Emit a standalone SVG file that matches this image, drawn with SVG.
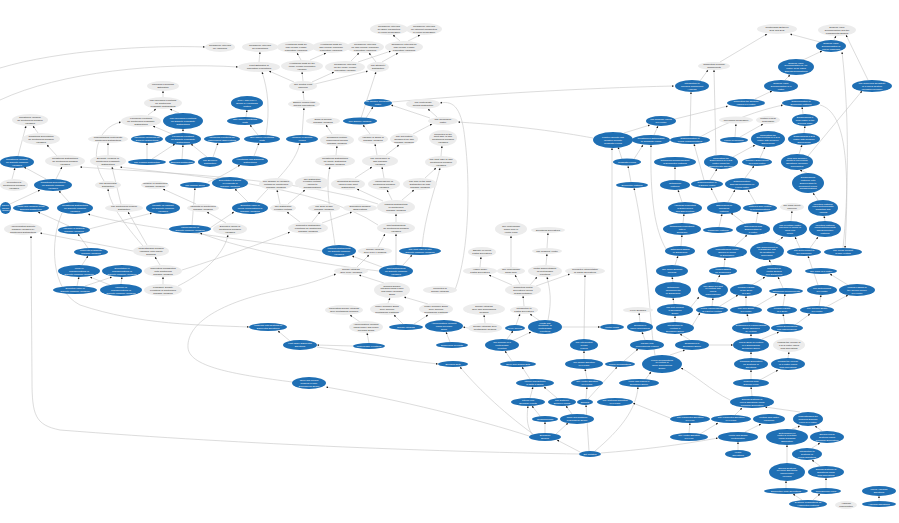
<svg xmlns="http://www.w3.org/2000/svg" width="899" height="523" viewBox="0 0 899 523">
<defs>
<marker id="ah" viewBox="0 0 10 10" refX="9" refY="5" markerWidth="2.4" markerHeight="2.4" markerUnits="userSpaceOnUse" orient="auto"><path d="M0,1 L10,5 L0,9z" fill="#1a1a1a"/></marker>
<style>
.b{fill:#1f6fb4}
.g{fill:#ececec}
text{font-family:"Liberation Sans",Arial,sans-serif;font-size:2.4px;text-anchor:middle}
.tb{fill:#ffffff}
.tg{fill:#2a2a2a}
.sm{font-size:1.9px}
#connectors path{fill:none;stroke:#c4c4c4;stroke-width:0.6;marker-end:url(#ah)}
</style>
</defs>
<rect width="899" height="523" fill="#ffffff"/>
<g id="connectors">
<path d="M0,100 C60,72 160,62 238,67"/>
<path d="M0,68 C60,50 150,45 205,47"/>
<path d="M259,62 L260,52"/>
<path d="M301,60 L297,53"/>
<path d="M310,60 L326,53"/>
<path d="M351,61 L359,53"/>
<path d="M358,62 L391,51"/>
<path d="M376,62 L369,53"/>
<path d="M382,62 L398,53"/>
<path d="M400,41 L393,35"/>
<path d="M408,41 L420,35"/>
<path d="M303,81 L302,72"/>
<path d="M312,82 L334,72"/>
<path d="M294,82 L269,71"/>
<path d="M315,84 L368,71"/>
<path d="M304,100 L303,91"/>
<path d="M302,135 L304,108"/>
<path d="M361,118 L376,72"/>
<path d="M163,97 L163,91"/>
<path d="M148,115 L156,109"/>
<path d="M179,113 L170,109"/>
<path d="M172,134 L153,126"/>
<path d="M183,133 L183,129"/>
<path d="M147,159 L147,143"/>
<path d="M152,159 L175,144"/>
<path d="M182,159 L183,145"/>
<path d="M207,157 L191,144"/>
<path d="M213,157 L218,143"/>
<path d="M108,155 L108,143"/>
<path d="M18,156 L26,126"/>
<path d="M57,156 L47,145"/>
<path d="M38,133 L33,126"/>
<path d="M104,181 C90,160 95,128 121,122"/>
<path d="M56,179 L62,167"/>
<path d="M46,179 L24,167"/>
<path d="M121,204 L112,167"/>
<path d="M246,117 L247,110"/>
<path d="M258,135 L250,125"/>
<path d="M254,156 L259,143"/>
<path d="M366,118 L373,107"/>
<path d="M437,117 L428,109"/>
<path d="M430,118 L391,105"/>
<path d="M392,102 C470,95 580,88 674,86"/>
<path d="M332,134 L326,125"/>
<path d="M370,134 L363,125"/>
<path d="M377,155 L375,144"/>
<path d="M386,155 L399,145"/>
<path d="M336,155 L337,146"/>
<path d="M413,134 L432,124"/>
<path d="M593,138 C560,132 520,126 458,122"/>
<path d="M455,290 C470,250 470,180 465,140 C462,110 455,100 440,103"/>
<path d="M441,156 L442,146"/>
<path d="M422,247 C425,215 435,190 440,168"/>
<path d="M266,135 C270,110 268,90 262,72"/>
<path d="M256,202 C275,180 295,165 300,143"/>
<path d="M378,204 C300,178 150,172 80,167"/>
<path d="M378,225 C320,185 180,175 120,167"/>
<path d="M335,245 C330,210 325,185 330,167"/>
<path d="M355,178 L372,167"/>
<path d="M384,178 L382,167"/>
<path d="M425,178 L436,168"/>
<path d="M69,202 L59,191"/>
<path d="M69,226 L38,212"/>
<path d="M322,251 C250,240 120,225 88,214"/>
<path d="M147,245 L128,212"/>
<path d="M143,246 C125,225 110,205 108,189"/>
<path d="M89,229 L152,213"/>
<path d="M226,223 L207,212"/>
<path d="M196,204 L163,189"/>
<path d="M133,251 L40,233"/>
<path d="M88,248 L78,234"/>
<path d="M379,271 C300,262 230,245 200,233"/>
<path d="M82,265 L88,256"/>
<path d="M160,265 L155,257"/>
<path d="M77,286 L79,277"/>
<path d="M85,286 L112,277"/>
<path d="M121,284 L122,277"/>
<path d="M110,285 L90,277"/>
<path d="M163,284 L163,277"/>
<path d="M192,225 L195,188"/>
<path d="M248,202 L235,189"/>
<path d="M210,228 L234,212"/>
<path d="M280,204 L277,190"/>
<path d="M288,204 L305,190"/>
<path d="M383,201 L357,189"/>
<path d="M392,200 L387,190"/>
<path d="M402,200 L414,190"/>
<path d="M396,222 L396,214"/>
<path d="M312,222 L320,212"/>
<path d="M300,222 L287,212"/>
<path d="M322,223 L352,212"/>
<path d="M182,270 C230,255 270,240 290,232"/>
<path d="M178,286 C210,270 225,250 228,235"/>
<path d="M378,247 L385,234"/>
<path d="M396,265 L396,234"/>
<path d="M382,267 L352,256"/>
<path d="M403,265 L412,255"/>
<path d="M357,267 L369,255"/>
<path d="M384,283 L359,275"/>
<path d="M388,303 L390,298"/>
<path d="M428,304 L404,297"/>
<path d="M360,322 L350,315"/>
<path d="M403,324 L394,315"/>
<path d="M414,324 L428,315"/>
<path d="M369,343 L367,333"/>
<path d="M290,341 L278,331"/>
<path d="M353,346 L317,345"/>
<path d="M317,347 C360,352 400,360 438,364"/>
<path d="M292,382 C240,375 190,368 188,348 C186,320 230,300 280,290 C310,284 325,278 336,274"/>
<path d="M529,436 C480,420 400,400 326,387"/>
<path d="M579,454 C450,452 250,445 60,430 C35,425 32,415 32,380 L31,236"/>
<path d="M62,213 C50,240 50,290 80,305 C140,325 200,325 249,327"/>
<path d="M511,267 L511,236"/>
<path d="M547,248 L548,233"/>
<path d="M480,267 L481,257"/>
<path d="M546,265 L547,254"/>
<path d="M512,285 L489,275"/>
<path d="M520,284 L515,275"/>
<path d="M530,285 L537,277"/>
<path d="M536,286 L570,274"/>
<path d="M524,306 L523,296"/>
<path d="M548,320 C552,300 550,290 547,277"/>
<path d="M584,339 L585,275"/>
<path d="M540,321 L530,314"/>
<path d="M516,325 L520,314"/>
<path d="M485,323 L484,315"/>
<path d="M468,328 L463,327"/>
<path d="M507,339 L513,331"/>
<path d="M512,341 L531,332"/>
<path d="M562,327 L600,327"/>
<path d="M450,342 L446,332"/>
<path d="M612,324 L612,148"/>
<path d="M622,159 L618,147"/>
<path d="M634,159 L643,145"/>
<path d="M624,133 L650,125"/>
<path d="M654,135 L658,126"/>
<path d="M631,182 L628,166"/>
<path d="M675,180 L675,167"/>
<path d="M675,119 L728,106"/>
<path d="M700,137 C730,120 760,110 783,105"/>
<path d="M690,136 L691,92"/>
<path d="M700,81 L708,70"/>
<path d="M720,62 L767,34"/>
<path d="M820,42 L790,34"/>
<path d="M834,40 L836,36"/>
<path d="M803,60 L822,51"/>
<path d="M785,80 L790,75"/>
<path d="M755,99 L772,91"/>
<path d="M868,80 L846,35"/>
<path d="M808,156 L862,91"/>
<path d="M735,137 L736,124"/>
<path d="M740,137 L763,124"/>
<path d="M803,114 L802,107"/>
<path d="M804,133 L805,126"/>
<path d="M799,154 L802,145"/>
<path d="M733,157 L755,145"/>
<path d="M760,158 L765,147"/>
<path d="M716,155 L714,70"/>
<path d="M843,248 C848,200 850,120 842,52"/>
<path d="M820,105 C845,112 850,160 845,248"/>
<path d="M704,180 L694,144"/>
<path d="M710,180 L717,169"/>
<path d="M745,178 L754,166"/>
<path d="M807,173 L800,170"/>
<path d="M756,204 L748,190"/>
<path d="M728,202 L735,190"/>
<path d="M718,202 L711,188"/>
<path d="M719,227 L722,214"/>
<path d="M745,224 L731,213"/>
<path d="M756,223 L758,212"/>
<path d="M791,221 L792,211"/>
<path d="M825,221 L824,216"/>
<path d="M818,200 L813,193"/>
<path d="M682,202 L678,190"/>
<path d="M683,223 L684,214"/>
<path d="M681,246 L682,235"/>
<path d="M675,265 L678,256"/>
<path d="M673,282 L672,277"/>
<path d="M674,304 L673,298"/>
<path d="M675,322 L675,316"/>
<path d="M690,340 L680,334"/>
<path d="M775,243 L783,237"/>
<path d="M800,248 L795,237"/>
<path d="M810,248 L818,237"/>
<path d="M735,246 L747,235"/>
<path d="M724,267 L725,258"/>
<path d="M772,265 L769,260"/>
<path d="M818,285 L808,256"/>
<path d="M716,282 L720,275"/>
<path d="M752,285 L765,277"/>
<path d="M783,288 L778,277"/>
<path d="M848,285 L830,274"/>
<path d="M819,306 L821,295"/>
<path d="M826,307 L848,295"/>
<path d="M712,306 L713,298"/>
<path d="M720,306 L738,295"/>
<path d="M783,306 L785,294"/>
<path d="M755,307 L777,294"/>
<path d="M746,306 L746,296"/>
<path d="M749,322 L747,314"/>
<path d="M785,324 L783,314"/>
<path d="M795,325 L810,314"/>
<path d="M751,338 L751,334"/>
<path d="M762,339 L779,332"/>
<path d="M709,345 L733,345"/>
<path d="M692,326 L700,313"/>
<path d="M751,358 L751,352"/>
<path d="M788,358 L789,352"/>
<path d="M690,308 L699,297"/>
<path d="M751,379 L751,370"/>
<path d="M760,380 L778,370"/>
<path d="M752,396 L751,387"/>
<path d="M730,400 C710,390 695,375 681,368"/>
<path d="M735,415 L742,408"/>
<path d="M800,412 L765,407"/>
<path d="M689,433 L690,423"/>
<path d="M700,434 L718,423"/>
<path d="M745,432 L761,424"/>
<path d="M792,429 L800,426"/>
<path d="M822,431 L815,426"/>
<path d="M738,450 L738,442"/>
<path d="M787,463 L787,445"/>
<path d="M812,448 L820,443"/>
<path d="M820,466 L812,460"/>
<path d="M786,488 L786,481"/>
<path d="M826,488 L826,478"/>
<path d="M802,500 L793,494"/>
<path d="M813,500 L820,494"/>
<path d="M879,501 L879,496"/>
<path d="M601,453 C640,450 680,445 718,438"/>
<path d="M530,379 L522,367"/>
<path d="M587,379 L585,369"/>
<path d="M588,399 L617,367"/>
<path d="M645,380 L651,372"/>
<path d="M530,398 L533,387"/>
<path d="M557,398 L544,387"/>
<path d="M586,399 L587,387"/>
<path d="M595,451 C620,430 636,410 638,387"/>
<path d="M540,416 L532,406"/>
<path d="M532,434 C526,425 527,415 528,406"/>
<path d="M545,433 L545,422"/>
<path d="M572,414 L566,406"/>
<path d="M589,451 L586,405"/>
<path d="M556,434 L568,423"/>
<path d="M670,418 L633,403"/>
<path d="M580,452 L557,440"/>
<path d="M533,434 C500,410 475,385 460,367"/>
<path d="M512,361 L505,351"/>
<path d="M584,359 L584,351"/>
<path d="M624,361 L638,349"/>
<path d="M670,355 L685,350"/>
<path d="M645,340 L642,332"/>
<path d="M640,322 L639,313"/>
<path d="M655,355 C650,330 648,250 634,188"/>
<path d="M666,249 C655,230 650,200 651,145"/>
<path d="M208,182 C225,175 235,168 240,165"/>
<path d="M12,179 L15,168"/>
<path d="M10,204 L40,190"/>
</g>

<g id="civar"><ellipse class="g" cx="220" cy="47" rx="15" ry="5"/><text class="tg" x="220" y="46.45"><tspan x="220">Confidence Intervals</tspan><tspan x="220" dy="2.8">for Variances</tspan></text></g>
<g id="ciprop"><ellipse class="g" cx="260" cy="47" rx="18" ry="5"/><text class="tg" x="260" y="46.45"><tspan x="260">Confidence Intervals</tspan><tspan x="260" dy="2.8">for Proportions</tspan></text></g>
<g id="htkn2"><ellipse class="g" cx="296" cy="47" rx="19" ry="6"/><text class="tg" x="296" y="45.05"><tspan x="296">Hypothesis Tests for</tspan><tspan x="296" dy="2.8">Two Means: Known</tspan><tspan x="296" dy="2.8">Population Variances</tspan></text></g>
<g id="htun2"><ellipse class="g" cx="331" cy="47" rx="19" ry="6"/><text class="tg" x="331" y="45.05"><tspan x="331">Hypothesis Tests for</tspan><tspan x="331" dy="2.8">Two Means: Unknown</tspan><tspan x="331" dy="2.8">Population Variances</tspan></text></g>
<g id="ciun2"><ellipse class="g" cx="365" cy="47" rx="19" ry="6"/><text class="tg" x="365" y="45.05"><tspan x="365">Confidence Intervals</tspan><tspan x="365" dy="2.8">for Two Means: Unknown</tspan><tspan x="365" dy="2.8">Population Variances</tspan></text></g>
<g id="cikn2"><ellipse class="g" cx="404" cy="47" rx="19" ry="6"/><text class="tg" x="404" y="45.05"><tspan x="404">Confidence Intervals for</tspan><tspan x="404" dy="2.8">Two Means: Known</tspan><tspan x="404" dy="2.8">Population Variances</tspan></text></g>
<g id="cislope"><ellipse class="g" cx="389" cy="29" rx="19" ry="6"/><text class="tg" x="389" y="27.05"><tspan x="389">Confidence Intervals</tspan><tspan x="389" dy="2.8">for Slope Parameters</tspan><tspan x="389" dy="2.8">in Linear Regression</tspan></text></g>
<g id="ciint"><ellipse class="g" cx="424" cy="29" rx="18" ry="6"/><text class="tg" x="424" y="27.05"><tspan x="424">Confidence Intervals</tspan><tspan x="424" dy="2.8">for Intercept Parameters</tspan><tspan x="424" dy="2.8">in Linear Regression</tspan></text></g>
<g id="peprop"><ellipse class="g" cx="259" cy="67" rx="21" ry="5"/><text class="tg" x="259" y="66.45"><tspan x="259">Point Estimates of</tspan><tspan x="259" dy="2.8">Population Proportions</tspan></text></g>
<g id="htkn"><ellipse class="g" cx="302" cy="66" rx="21" ry="6"/><text class="tg" x="302" y="64.05"><tspan x="302">Hypothesis Tests for the</tspan><tspan x="302" dy="2.8">Mean: Known Population</tspan><tspan x="302" dy="2.8">Variance</tspan></text></g>
<g id="cikn"><ellipse class="g" cx="345" cy="67" rx="20" ry="6"/><text class="tg" x="345" y="65.05"><tspan x="345">Confidence Intervals</tspan><tspan x="345" dy="2.8">for the Mean: Known</tspan><tspan x="345" dy="2.8">Population Variance</tspan></text></g>
<g id="tdist"><ellipse class="g" cx="378" cy="67" rx="11" ry="5"/><text class="tg" x="378" y="66.45"><tspan x="378">The Student t</tspan><tspan x="378" dy="2.8">Distribution</tspan></text></g>
<g id="clt"><ellipse class="g" cx="303" cy="86" rx="14" ry="5"/><text class="tg" x="303" y="85.45"><tspan x="303">The Central Limit</tspan><tspan x="303" dy="2.8">Theorem</tspan></text></g>
<g id="mle"><ellipse class="g" cx="163" cy="86" rx="16" ry="5"/><text class="tg" x="163" y="85.45"><tspan x="163">Maximum Likelihood</tspan><tspan x="163" dy="2.8">Estimation</tspan></text></g>
<g id="llcont"><ellipse class="g" cx="163" cy="103" rx="19" ry="6"/><text class="tg" x="163" y="101.05"><tspan x="163">Log-Likelihood Functions</tspan><tspan x="163" dy="2.8">for Continuous</tspan><tspan x="163" dy="2.8">Probability Distributions</tspan></text></g>
<g id="typeerr"><ellipse class="b" cx="247" cy="103" rx="16" ry="7"/><text class="tb" x="247" y="101.05"><tspan x="247">Type I and Type II</tspan><tspan x="247" dy="2.8">Errors in Hypothesis</tspan><tspan x="247" dy="2.8">Testing</tspan></text></g>
<g id="smnorm"><ellipse class="g" cx="304" cy="104" rx="16" ry="4"/><text class="tg" x="304" y="103.45"><tspan x="304">Sample Means From</tspan><tspan x="304" dy="2.8">Normal Populations</tspan></text></g>
<g id="scov"><ellipse class="b" cx="378" cy="103" rx="14" ry="4"/><text class="tb" x="378" y="102.45"><tspan x="378">The Sample Covariance</tspan><tspan x="378" dy="2.8">Matrix</tspan></text></g>
<g id="mvn"><ellipse class="g" cx="423" cy="104" rx="17" ry="5"/><text class="tg" x="423" y="103.45"><tspan x="423">The Multivariate</tspan><tspan x="423" dy="2.8">Normal Distribution</tspan></text></g>
<g id="likcont"><ellipse class="g" cx="141" cy="121" rx="20" ry="6"/><text class="tg" x="141" y="119.05"><tspan x="141">Likelihood Functions</tspan><tspan x="141" dy="2.8">for Continuous Probability</tspan><tspan x="141" dy="2.8">Distributions</tspan></text></g>
<g id="lldisc"><ellipse class="b" cx="183" cy="121" rx="20" ry="8"/><text class="tb" x="183" y="119.05"><tspan x="183">Log-Likelihood Functions</tspan><tspan x="183" dy="2.8">for Discrete Probability</tspan><tspan x="183" dy="2.8">Distributions</tspan></text></g>
<g id="cvcont"><ellipse class="g" cx="30" cy="120" rx="18" ry="6"/><text class="tg" x="30" y="118.05"><tspan x="30">Conditional Variance</tspan><tspan x="30" dy="2.8">for Continuous Random</tspan><tspan x="30" dy="2.8">Variables</tspan></text></g>
<g id="twotail"><ellipse class="b" cx="245" cy="121" rx="18" ry="4"/><text class="tb" x="245" y="120.45"><tspan x="245">Two-Tailed Hypothesis</tspan><tspan x="245" dy="2.8">Tests</tspan></text></g>
<g id="sumnorm"><ellipse class="g" cx="323" cy="121" rx="17" ry="4"/><text class="tg" x="323" y="120.45"><tspan x="323">Sums of Normal</tspan><tspan x="323" dy="2.8">Random Variables</tspan></text></g>
<g id="svar"><ellipse class="b" cx="360" cy="121" rx="17" ry="3.5"/><text class="tb" x="360" y="121.85">The Sample Variance</text></g>
<g id="covmat"><ellipse class="g" cx="443" cy="121" rx="15" ry="4"/><text class="tg" x="443" y="120.45"><tspan x="443">The Covariance</tspan><tspan x="443" dy="2.8">Matrix</tspan></text></g>
<g id="cecont"><ellipse class="g" cx="41" cy="139" rx="19" ry="6"/><text class="tg" x="41" y="137.05"><tspan x="41">Conditional Expectation</tspan><tspan x="41" dy="2.8">for Continuous Random</tspan><tspan x="41" dy="2.8">Variables</tspan></text></g>
<g id="mvcont"><ellipse class="g" cx="108" cy="139" rx="20" ry="4"/><text class="tg" x="108" y="138.45"><tspan x="108">Understanding Multivariate</tspan><tspan x="108" dy="2.8">Continuous Distributions</tspan></text></g>
<g id="mledisc"><ellipse class="b" cx="147" cy="139" rx="16" ry="4"/><text class="tb" x="147" y="138.45"><tspan x="147">Maximum Likelihood for</tspan><tspan x="147" dy="2.8">Discrete Distributions</tspan></text></g>
<g id="likdisc"><ellipse class="b" cx="183" cy="139" rx="18" ry="6"/><text class="tb" x="183" y="137.05"><tspan x="183">Likelihood Functions</tspan><tspan x="183" dy="2.8">for Discrete Probability</tspan><tspan x="183" dy="2.8">Distributions</tspan></text></g>
<g id="likind"><ellipse class="b" cx="222" cy="139" rx="18" ry="4"/><text class="tb" x="222" y="138.45"><tspan x="222">Likelihood Functions for</tspan><tspan x="222" dy="2.8">Independent Observations</tspan></text></g>
<g id="onetail"><ellipse class="b" cx="262" cy="139" rx="18" ry="4"/><text class="tb" x="262" y="138.45"><tspan x="262">One-Tailed Hypothesis</tspan><tspan x="262" dy="2.8">Tests</tspan></text></g>
<g id="varsm"><ellipse class="b" cx="302" cy="139" rx="16" ry="4"/><text class="tb" x="302" y="138.45"><tspan x="302">Variance of Sample</tspan><tspan x="302" dy="2.8">Means</tspan></text></g>
<g id="combnorm"><ellipse class="g" cx="337" cy="140" rx="17" ry="6"/><text class="tg" x="337" y="138.05"><tspan x="337">Combining Multiple</tspan><tspan x="337" dy="2.8">Independent Normal</tspan><tspan x="337" dy="2.8">Random Variables</tspan></text></g>
<g id="varsum"><ellipse class="g" cx="373" cy="139" rx="15" ry="5"/><text class="tg" x="373" y="138.45"><tspan x="373">Variance of Sums of</tspan><tspan x="373" dy="2.8">Random Variables</tspan></text></g>
<g id="corr"><ellipse class="g" cx="404" cy="139" rx="14" ry="6"/><text class="tg" x="404" y="137.05"><tspan x="404">The Correlation</tspan><tspan x="404" dy="2.8">Coefficient for Two</tspan><tspan x="404" dy="2.8">Random Variables</tspan></text></g>
<g id="jcdfprop"><ellipse class="g" cx="443" cy="138" rx="14" ry="8"/><text class="tg" x="443" y="134.65"><tspan x="443">Properties of the</tspan><tspan x="443" dy="2.8">Joint CDF of Two</tspan><tspan x="443" dy="2.8">Continuous Random</tspan><tspan x="443" dy="2.8">Variables</tspan></text></g>
<g id="cvdisc"><ellipse class="b" cx="17" cy="162" rx="17" ry="6"/><text class="tb" x="17" y="160.05"><tspan x="17">Conditional Variance</tspan><tspan x="17" dy="2.8">for Discrete Random</tspan><tspan x="17" dy="2.8">Variables</tspan></text></g>
<g id="cdcont"><ellipse class="g" cx="65" cy="161" rx="20" ry="6"/><text class="tg" x="65" y="159.05"><tspan x="65">Conditional Distributions</tspan><tspan x="65" dy="2.8">for Continuous Random</tspan><tspan x="65" dy="2.8">Variables</tspan></text></g>
<g id="bivar"><ellipse class="g" cx="108" cy="161" rx="18" ry="6"/><text class="tg" x="108" y="159.05"><tspan x="108">Bivariate Versions of</tspan><tspan x="108" dy="2.8">Continuous Probability</tspan><tspan x="108" dy="2.8">Distributions</tspan></text></g>
<g id="poisson"><ellipse class="b" cx="147" cy="162" rx="19" ry="3"/><text class="tb" x="147" y="162.85">The Poisson Distribution</text></g>
<g id="binom"><ellipse class="b" cx="182" cy="162" rx="13" ry="3"/><text class="tb" x="182" y="162.85">Binomial Distribution</text></g>
<g id="bern"><ellipse class="b" cx="210" cy="162" rx="12" ry="5"/><text class="tb" x="210" y="161.45"><tspan x="210">The Bernoulli</tspan><tspan x="210" dy="2.8">Distribution</tspan></text></g>
<g id="hypsamp"><ellipse class="b" cx="250" cy="161" rx="18" ry="5"/><text class="tb" x="250" y="160.45"><tspan x="250">Hypothesis and Sampling</tspan><tspan x="250" dy="2.8">Distributions</tspan></text></g>
<g id="cdjoint"><ellipse class="g" cx="335" cy="161" rx="20" ry="6"/><text class="tg" x="335" y="159.05"><tspan x="335">Conditional Distributions</tspan><tspan x="335" dy="2.8">for Jointly Distributed</tspan><tspan x="335" dy="2.8">Random Variables</tspan></text></g>
<g id="cov2"><ellipse class="g" cx="380" cy="161" rx="18" ry="6"/><text class="tg" x="380" y="159.05"><tspan x="380">The Covariance of</tspan><tspan x="380" dy="2.8">Two Random</tspan><tspan x="380" dy="2.8">Variables</tspan></text></g>
<g id="jcdf"><ellipse class="g" cx="441" cy="162" rx="16" ry="6"/><text class="tg" x="441" y="160.05"><tspan x="441">The Joint CDF of Two</tspan><tspan x="441" dy="2.8">Continuous Random</tspan><tspan x="441" dy="2.8">Variables</tspan></text></g>

<g id="svdevd"><ellipse class="g" cx="777" cy="29" rx="20" ry="5"/><text class="tg" x="777" y="28.45"><tspan x="777">Relationship Between</tspan><tspan x="777" dy="2.8">SVD and EVD</tspan></text></g>
<g id="svd4"><ellipse class="g" cx="837" cy="30" rx="19" ry="6"/><text class="tg" x="837" y="28.05"><tspan x="837">Singular Value</tspan><tspan x="837" dy="2.8">Decomposition and the</tspan><tspan x="837" dy="2.8">Fundamental Spaces</tspan></text></g>
<g id="svdlin"><ellipse class="b" cx="831" cy="46" rx="15" ry="6"/><text class="tb" x="831" y="44.05"><tspan x="831">Singular Value</tspan><tspan x="831" dy="2.8">Decomposition of</tspan><tspan x="831" dy="2.8">Linear Mappings</tspan></text></g>
<g id="cpc"><ellipse class="g" cx="714" cy="66" rx="16" ry="4"/><text class="tg" x="714" y="65.45"><tspan x="714">Computing Principal</tspan><tspan x="714" dy="2.8">Components</tspan></text></g>
<g id="svdany"><ellipse class="b" cx="796" cy="67" rx="18" ry="8"/><text class="tb" x="796" y="63.65"><tspan x="796">Singular Value</tspan><tspan x="796" dy="2.8">Decomposition of Any</tspan><tspan x="796" dy="2.8">Matrix: SVD Using</tspan><tspan x="796" dy="2.8">Eigendecompositions</tspan></text></g>
<g id="pca"><ellipse class="b" cx="692" cy="86" rx="17" ry="6"/><text class="tb" x="692" y="84.05"><tspan x="692">Introduction to</tspan><tspan x="692" dy="2.8">Principal Component</tspan><tspan x="692" dy="2.8">Analysis</tspan></text></g>
<g id="svdmat"><ellipse class="b" cx="781" cy="86" rx="17" ry="6"/><text class="tb" x="781" y="84.05"><tspan x="781">Singular Value</tspan><tspan x="781" dy="2.8">Decomposition of a</tspan><tspan x="781" dy="2.8">Matrix</tspan></text></g>
<g id="cond"><ellipse class="b" cx="872" cy="86" rx="20" ry="6"/><text class="tb" x="872" y="84.05"><tspan x="872">The Numerical Sensitivity</tspan><tspan x="872" dy="2.8">of a Linear System</tspan><tspan x="872" dy="2.8">(Condition Number)</tspan></text></g>
<g id="compsv"><ellipse class="b" cx="746" cy="103" rx="19" ry="4"/><text class="tb" x="746" y="102.45"><tspan x="746">Computing the Singular</tspan><tspan x="746" dy="2.8">Values of a Matrix</tspan></text></g>
<g id="diagsym"><ellipse class="b" cx="801" cy="103" rx="19" ry="4"/><text class="tb" x="801" y="102.45"><tspan x="801">Diagonalization of</tspan><tspan x="801" dy="2.8">Symmetric Matrices</tspan></text></g>
<g id="polyreg"><ellipse class="g" cx="736" cy="120" rx="17" ry="3.5"/><text class="tg" x="736" y="120.85">Polynomial Regression</text></g>
<g id="mlr"><ellipse class="g" cx="768" cy="120" rx="12" ry="4"/><text class="tg" x="768" y="119.45"><tspan x="768">Multiple Linear</tspan><tspan x="768" dy="2.8">Regression</tspan></text></g>
<g id="diagreal"><ellipse class="b" cx="805" cy="120" rx="13" ry="6"/><text class="tb" x="805" y="118.05"><tspan x="805">Diagonalizing a</tspan><tspan x="805" dy="2.8">Real Matrix in the</tspan><tspan x="805" dy="2.8">General Case</tspan></text></g>
<g id="svm"><ellipse class="b" cx="661" cy="121" rx="15" ry="5"/><text class="tb" x="661" y="120.45"><tspan x="661">The Singular Values</tspan><tspan x="661" dy="2.8">of a Matrix</tspan></text></g>
<g id="posdef"><ellipse class="b" cx="613" cy="140" rx="20" ry="8"/><text class="tb" x="613" y="138.05"><tspan x="613">Positive Definite and</tspan><tspan x="613" dy="2.8">Negative Definite</tspan><tspan x="613" dy="2.8">Quadratic Forms</tspan></text></g>
<g id="conopt"><ellipse class="b" cx="651" cy="140" rx="19" ry="5"/><text class="tb" x="651" y="139.45"><tspan x="651">Constrained Optimization</tspan><tspan x="651" dy="2.8">of Quadratic Forms</tspan></text></g>
<g id="diaglin"><ellipse class="b" cx="690" cy="140" rx="20" ry="4"/><text class="tb" x="690" y="139.45"><tspan x="690">Diagonalization of</tspan><tspan x="690" dy="2.8">Linear Transformations</tspan></text></g>
<g id="linreg"><ellipse class="b" cx="734" cy="140" rx="14" ry="3"/><text class="tb" x="734" y="140.85">Linear Regression</text></g>
<g id="eigcx2"><ellipse class="b" cx="768" cy="139" rx="17" ry="8"/><text class="tb" x="768" y="135.65"><tspan x="768">Calculating the</tspan><tspan x="768" dy="2.8">Eigenvectors of a 2×2</tspan><tspan x="768" dy="2.8">Matrix with Complex</tspan><tspan x="768" dy="2.8">Eigenvalues</tspan></text></g>
<g id="diag2cx"><ellipse class="b" cx="804" cy="139" rx="16" ry="6"/><text class="tb" x="804" y="137.05"><tspan x="804">Diagonalizing a 2×2</tspan><tspan x="804" dy="2.8">Matrix with Complex</tspan><tspan x="804" dy="2.8">Eigenvalues</tspan></text></g>
<g id="quad"><ellipse class="b" cx="627" cy="162" rx="14" ry="3.5"/><text class="tb" x="627" y="162.85">Quadratic Forms</text></g>
<g id="orthdiag"><ellipse class="b" cx="675" cy="162" rx="21" ry="5"/><text class="tb" x="675" y="161.45"><tspan x="675">Orthogonal Diagonalization</tspan><tspan x="675" dy="2.8">of Symmetric Matrices</tspan></text></g>
<g id="eig2"><ellipse class="b" cx="721" cy="162" rx="17" ry="7"/><text class="tb" x="721" y="158.65"><tspan x="721">Calculating the</tspan><tspan x="721" dy="2.8">Eigenvalues of a 2×2</tspan><tspan x="721" dy="2.8">Matrix Using the</tspan><tspan x="721" dy="2.8">Characteristic Equation</tspan></text></g>
<g id="cxeig"><ellipse class="b" cx="757" cy="162" rx="15" ry="4"/><text class="tb" x="757" y="161.45"><tspan x="757">Complex Eigenvalues</tspan><tspan x="757" dy="2.8">of a Real Matrix</tspan></text></g>
<g id="realcx"><ellipse class="b" cx="797" cy="162" rx="16" ry="8"/><text class="tb" x="797" y="158.65"><tspan x="797">Real and Complex</tspan><tspan x="797" dy="2.8">Roots of Polynomial</tspan><tspan x="797" dy="2.8">Equations (Complex</tspan><tspan x="797" dy="2.8">Conjugates)</tspan></text></g>

<g id="l185"><ellipse class="g" cx="14" cy="185" rx="14" ry="6"/><text class="tg" x="14" y="183.05"><tspan x="14">Percentiles of</tspan><tspan x="14" dy="2.8">Continuous Random</tspan><tspan x="14" dy="2.8">Variables</tspan></text></g>
<g id="cedisc"><ellipse class="b" cx="53" cy="185" rx="19" ry="6"/><text class="tb" x="53" y="183.05"><tspan x="53">Conditional Expectation</tspan><tspan x="53" dy="2.8">for Discrete Random</tspan><tspan x="53" dy="2.8">Variables</tspan></text></g>
<g id="expo"><ellipse class="g" cx="108" cy="185" rx="13" ry="4"/><text class="tg" x="108" y="184.45"><tspan x="108">The Exponential</tspan><tspan x="108" dy="2.8">Distribution</tspan></text></g>
<g id="varcont"><ellipse class="g" cx="155" cy="185" rx="14" ry="4"/><text class="tg" x="155" y="184.45"><tspan x="155">Variance of Continuous</tspan><tspan x="155" dy="2.8">Random Variables</tspan></text></g>
<g id="normal"><ellipse class="b" cx="195" cy="185" rx="15" ry="3"/><text class="tb" x="195" y="185.85">The Normal Curve</text></g>
<g id="expsum"><ellipse class="b" cx="230" cy="183" rx="18" ry="6"/><text class="tb" x="230" y="181.05"><tspan x="230">Expectation of Sums</tspan><tspan x="230" dy="2.8">or Products of</tspan><tspan x="230" dy="2.8">Random Variables</tspan></text></g>
<g id="chvar"><ellipse class="g" cx="276" cy="184" rx="17" ry="6"/><text class="tg" x="276" y="182.05"><tspan x="276">The Change of Variables</tspan><tspan x="276" dy="2.8">Method for Continuous</tspan><tspan x="276" dy="2.8">Random Variables</tspan></text></g>
<g id="dfmtr"><ellipse class="g" cx="312" cy="183" rx="17" ry="7"/><text class="tg" x="312" y="179.65"><tspan x="312">The Distribution</tspan><tspan x="312" dy="2.8">Function Method</tspan><tspan x="312" dy="2.8">Applied to</tspan><tspan x="312" dy="2.8">Transformations</tspan></text></g>
<g id="compexp"><ellipse class="g" cx="348" cy="184" rx="17" ry="6"/><text class="tg" x="348" y="182.05"><tspan x="348">Computing Expected</tspan><tspan x="348" dy="2.8">Values From Joint</tspan><tspan x="348" dy="2.8">Distributions</tspan></text></g>
<g id="indcont"><ellipse class="g" cx="384" cy="184" rx="16" ry="6"/><text class="tg" x="384" y="182.05"><tspan x="384">Independence of</tspan><tspan x="384" dy="2.8">Continuous Random</tspan><tspan x="384" dy="2.8">Variables</tspan></text></g>
<g id="twojoint"><ellipse class="g" cx="420" cy="184" rx="17" ry="6"/><text class="tg" x="420" y="182.05"><tspan x="420">The Role of the Joint</tspan><tspan x="420" dy="2.8">Distribution for Two</tspan><tspan x="420" dy="2.8">Random Variables</tspan></text></g>
<g id="l208"><ellipse class="b" cx="5.5" cy="208" rx="5.5" ry="6"/><text class="tb sm" x="5.5" y="206.4"><tspan x="5.5">Discrete</tspan><tspan x="5.5" dy="2.3">Random</tspan><tspan x="5.5" dy="2.3">Variables</tspan></text></g>
<g id="mvbinom"><ellipse class="b" cx="31" cy="208" rx="18" ry="4"/><text class="tb" x="31" y="207.45"><tspan x="31">Mean and Variance of the</tspan><tspan x="31" dy="2.8">Binomial Distribution</tspan></text></g>
<g id="cddisc"><ellipse class="b" cx="75" cy="208" rx="18" ry="6"/><text class="tb" x="75" y="206.05"><tspan x="75">Conditional Distributions</tspan><tspan x="75" dy="2.8">for Discrete Random</tspan><tspan x="75" dy="2.8">Variables</tspan></text></g>
<g id="unif"><ellipse class="g" cx="124" cy="208" rx="19" ry="4"/><text class="tg" x="124" y="207.45"><tspan x="124">The Continuous Uniform</tspan><tspan x="124" dy="2.8">Distribution</tspan></text></g>
<g id="linvar"><ellipse class="b" cx="163" cy="208" rx="17" ry="6"/><text class="tb" x="163" y="206.05"><tspan x="163">Linearity of Variance</tspan><tspan x="163" dy="2.8">for Discrete Random</tspan><tspan x="163" dy="2.8">Variables</tspan></text></g>
<g id="momcont"><ellipse class="g" cx="203" cy="208" rx="16" ry="4"/><text class="tg" x="203" y="207.45"><tspan x="203">Moments of Continuous</tspan><tspan x="203" dy="2.8">Random Variables</tspan></text></g>
<g id="explc"><ellipse class="b" cx="250" cy="208" rx="18" ry="6"/><text class="tb" x="250" y="206.05"><tspan x="250">Expected Value of</tspan><tspan x="250" dy="2.8">Linear Combinations of</tspan><tspan x="250" dy="2.8">Random Variables</tspan></text></g>
<g id="dfm"><ellipse class="g" cx="283" cy="208" rx="13" ry="4"/><text class="tg" x="283" y="207.45"><tspan x="283">The Distribution</tspan><tspan x="283" dy="2.8">Function Method</tspan></text></g>
<g id="sum2"><ellipse class="g" cx="324" cy="208" rx="16" ry="4"/><text class="tg" x="324" y="207.45"><tspan x="324">The Sum of Two</tspan><tspan x="324" dy="2.8">Random Variables</tspan></text></g>
<g id="simul"><ellipse class="g" cx="360" cy="208" rx="17" ry="4"/><text class="tg" x="360" y="207.45"><tspan x="360">Simulating Random</tspan><tspan x="360" dy="2.8">Observations</tspan></text></g>
<g id="margcont"><ellipse class="g" cx="396" cy="207" rx="19" ry="7"/><text class="tg" x="396" y="205.05"><tspan x="396">Marginal Distributions</tspan><tspan x="396" dy="2.8">of Continuous</tspan><tspan x="396" dy="2.8">Random Variables</tspan></text></g>
<g id="approx"><ellipse class="g" cx="23" cy="229" rx="19" ry="6"/><text class="tg" x="23" y="227.05"><tspan x="23">Approximating Discrete</tspan><tspan x="23" dy="2.8">Random Variables by</tspan><tspan x="23" dy="2.8">Continuous Distributions</tspan></text></g>
<g id="vardisc"><ellipse class="b" cx="74" cy="230" rx="16" ry="4"/><text class="tb" x="74" y="229.45"><tspan x="74">Variance of Discrete</tspan><tspan x="74" dy="2.8">Random Variables</tspan></text></g>
<g id="inddisc"><ellipse class="b" cx="190" cy="229" rx="21" ry="4"/><text class="tb" x="190" y="228.45"><tspan x="190">Independence of</tspan><tspan x="190" dy="2.8">Discrete Random Variables</tspan></text></g>
<g id="expcont"><ellipse class="g" cx="230" cy="229" rx="17" ry="6"/><text class="tg" x="230" y="227.05"><tspan x="230">Expected Values of</tspan><tspan x="230" dy="2.8">Continuous Random</tspan><tspan x="230" dy="2.8">Variables</tspan></text></g>
<g id="cdfcont"><ellipse class="g" cx="308" cy="228" rx="20" ry="6"/><text class="tg" x="308" y="226.05"><tspan x="308">Cumulative Distribution</tspan><tspan x="308" dy="2.8">Functions for Continuous</tspan><tspan x="308" dy="2.8">Random Variables</tspan></text></g>
<g id="jointcont"><ellipse class="g" cx="396" cy="228" rx="19" ry="6"/><text class="tg" x="396" y="226.05"><tspan x="396">Joint Distributions</tspan><tspan x="396" dy="2.8">for Continuous Random</tspan><tspan x="396" dy="2.8">Variables</tspan></text></g>
<g id="momdisc"><ellipse class="b" cx="91" cy="252" rx="17" ry="4"/><text class="tb" x="91" y="251.45"><tspan x="91">Moments of Discrete</tspan><tspan x="91" dy="2.8">Random Variables</tspan></text></g>
<g id="infdom"><ellipse class="g" cx="151" cy="251" rx="18" ry="6"/><text class="tg" x="151" y="249.05"><tspan x="151">Understanding Random</tspan><tspan x="151" dy="2.8">Variables With Infinite</tspan><tspan x="151" dy="2.8">Domains</tspan></text></g>
<g id="margdisc"><ellipse class="b" cx="339" cy="251" rx="17" ry="6"/><text class="tb" x="339" y="249.05"><tspan x="339">Marginal Distributions</tspan><tspan x="339" dy="2.8">for Discrete Random</tspan><tspan x="339" dy="2.8">Variables</tspan></text></g>
<g id="dbl2"><ellipse class="g" cx="375" cy="251" rx="17" ry="4"/><text class="tg" x="375" y="250.45"><tspan x="375">Double Integrals</tspan><tspan x="375" dy="2.8">Over Type II Regions</tspan></text></g>
<g id="jcdfdisc"><ellipse class="b" cx="420" cy="251" rx="21" ry="4"/><text class="tb" x="420" y="250.45"><tspan x="420">The Joint CDF of Two</tspan><tspan x="420" dy="2.8">Discrete Random Variables</tspan></text></g>
<g id="meantr"><ellipse class="b" cx="79" cy="271" rx="21" ry="6"/><text class="tb" x="79" y="269.05"><tspan x="79">Mean of</tspan><tspan x="79" dy="2.8">Transformations of</tspan><tspan x="79" dy="2.8">Discrete Random Variables</tspan></text></g>
<g id="exptr"><ellipse class="b" cx="122" cy="271" rx="20" ry="6"/><text class="tb" x="122" y="269.05"><tspan x="122">Expectation of</tspan><tspan x="122" dy="2.8">Transformations of</tspan><tspan x="122" dy="2.8">Discrete Random Variables</tspan></text></g>
<g id="calcprob"><ellipse class="g" cx="163" cy="271" rx="19" ry="6"/><text class="tg" x="163" y="269.05"><tspan x="163">Calculating Probabilities</tspan><tspan x="163" dy="2.8">With Continuous</tspan><tspan x="163" dy="2.8">Random Variables</tspan></text></g>
<g id="dbl1"><ellipse class="g" cx="351" cy="271" rx="17" ry="4"/><text class="tg" x="351" y="270.45"><tspan x="351">Double Integrals</tspan><tspan x="351" dy="2.8">Over Type I Regions</tspan></text></g>
<g id="jointdisc"><ellipse class="b" cx="396" cy="271" rx="17" ry="6"/><text class="tb" x="396" y="269.05"><tspan x="396">Joint Distributions</tspan><tspan x="396" dy="2.8">for Discrete Random</tspan><tspan x="396" dy="2.8">Variables</tspan></text></g>
<g id="expdisc"><ellipse class="b" cx="75" cy="290" rx="22" ry="4"/><text class="tb" x="75" y="289.45"><tspan x="75">Expected Value of</tspan><tspan x="75" dy="2.8">Discrete Random Variables</tspan></text></g>
<g id="vartr"><ellipse class="b" cx="121" cy="290" rx="21" ry="6"/><text class="tb" x="121" y="288.05"><tspan x="121">Variance of</tspan><tspan x="121" dy="2.8">Transformations of</tspan><tspan x="121" dy="2.8">Discrete Random Variables</tspan></text></g>
<g id="pdf"><ellipse class="g" cx="163" cy="290" rx="19" ry="6"/><text class="tg" x="163" y="288.05"><tspan x="163">Probability Density</tspan><tspan x="163" dy="2.8">Functions of Continuous</tspan><tspan x="163" dy="2.8">Random Variables</tspan></text></g>
<g id="defdbl"><ellipse class="g" cx="392" cy="290" rx="18" ry="8"/><text class="tg" x="392" y="286.65"><tspan x="392">Defining Double</tspan><tspan x="392" dy="2.8">Integrals Using Lower</tspan><tspan x="392" dy="2.8">and Upper Riemann</tspan><tspan x="392" dy="2.8">Sums</tspan></text></g>
<g id="propdbl"><ellipse class="g" cx="440" cy="290" rx="17" ry="4"/><text class="tg" x="440" y="289.45"><tspan x="440">Properties of</tspan><tspan x="440" dy="2.8">Double Integrals</tspan></text></g>
<g id="calcrect"><ellipse class="g" cx="344" cy="310" rx="19" ry="5"/><text class="tg" x="344" y="309.45"><tspan x="344">Calculating Double Integrals</tspan><tspan x="344" dy="2.8">Over Rectangular Regions</tspan></text></g>
<g id="upper"><ellipse class="g" cx="387" cy="309" rx="17" ry="6"/><text class="tg" x="387" y="307.05"><tspan x="387">Upper Riemann Sums</tspan><tspan x="387" dy="2.8">Over General</tspan><tspan x="387" dy="2.8">Rectangular Partitions</tspan></text></g>
<g id="lower"><ellipse class="g" cx="436" cy="309" rx="17" ry="6"/><text class="tg" x="436" y="307.05"><tspan x="436">Lower Riemann Sums</tspan><tspan x="436" dy="2.8">Over General</tspan><tspan x="436" dy="2.8">Rectangular Partitions</tspan></text></g>
<g id="dbl2d"><ellipse class="g" cx="484" cy="309" rx="21" ry="6"/><text class="tg" x="484" y="307.05"><tspan x="484">Double Integrals</tspan><tspan x="484" dy="2.8">Over Two-Dimensional</tspan><tspan x="484" dy="2.8">Regions</tspan></text></g>
<g id="intropd"><ellipse class="g" cx="524" cy="310" rx="14" ry="4"/><text class="tg" x="524" y="309.45"><tspan x="524">Introduction to</tspan><tspan x="524" dy="2.8">Partial Derivatives</tspan></text></g>
<g id="levsurf"><ellipse class="g" cx="638" cy="310" rx="15" ry="3"/><text class="tg" x="638" y="310.85">Level Surfaces</text></g>
<g id="c310"><ellipse class="b" cx="675" cy="310" rx="18" ry="6"/><text class="tb" x="675" y="308.05"><tspan x="675">The Dot Product</tspan><tspan x="675" dy="2.8">in Euclidean</tspan><tspan x="675" dy="2.8">Space</tspan></text></g>
<g id="modeling"><ellipse class="b" cx="268" cy="327" rx="19" ry="4"/><text class="tb" x="268" y="326.45"><tspan x="268">Modeling With Systems of</tspan><tspan x="268" dy="2.8">Differential Equations</tspan></text></g>
<g id="approxvol"><ellipse class="g" cx="366" cy="327" rx="17" ry="6"/><text class="tg" x="366" y="325.05"><tspan x="366">Approximating Volumes</tspan><tspan x="366" dy="2.8">Using Upper and Lower</tspan><tspan x="366" dy="2.8">Riemann Sums</tspan></text></g>
<g id="dblint"><ellipse class="b" cx="406" cy="327" rx="17" ry="3"/><text class="tb" x="406" y="327.85">Double Integrals</text></g>
<g id="approxrs"><ellipse class="b" cx="444" cy="326" rx="19" ry="6"/><text class="tb" x="444" y="324.05"><tspan x="444">Approximating Volumes</tspan><tspan x="444" dy="2.8">Using Riemann</tspan><tspan x="444" dy="2.8">Sums</tspan></text></g>
<g id="dblrect"><ellipse class="g" cx="485" cy="328" rx="17" ry="5"/><text class="tg" x="485" y="327.45"><tspan x="485">Double Integrals Over</tspan><tspan x="485" dy="2.8">Rectangular Regions</tspan></text></g>
<g id="levcurves"><ellipse class="b" cx="515" cy="328" rx="10" ry="3"/><text class="tb" x="515" y="328.85">Level Curves</text></g>
<g id="limcont"><ellipse class="b" cx="545" cy="327" rx="17" ry="7"/><text class="tb" x="545" y="323.65"><tspan x="545">Limits and</tspan><tspan x="545" dy="2.8">Continuity of</tspan><tspan x="545" dy="2.8">Multivariable</tspan><tspan x="545" dy="2.8">Functions</tspan></text></g>
<g id="vecfield"><ellipse class="b" cx="612" cy="327" rx="12" ry="3"/><text class="tb" x="612" y="327.85">Vector Fields</text></g>
<g id="surf"><ellipse class="b" cx="640" cy="327" rx="13" ry="5"/><text class="tb" x="640" y="326.45"><tspan x="640">Surfaces in</tspan><tspan x="640" dy="2.8">Three Dimensions</tspan></text></g>
<g id="c328"><ellipse class="b" cx="675" cy="328" rx="19" ry="6"/><text class="tb" x="675" y="326.05"><tspan x="675">Introduction to</tspan><tspan x="675" dy="2.8">Vectors in</tspan><tspan x="675" dy="2.8">Euclidean Space</tspan></text></g>
<g id="ode"><ellipse class="b" cx="300" cy="345" rx="17" ry="5"/><text class="tb" x="300" y="344.45"><tspan x="300">First-Order Differential</tspan><tspan x="300" dy="2.8">Equations</tspan></text></g>
<g id="fsv"><ellipse class="b" cx="369" cy="346" rx="16" ry="3"/><text class="tb" x="369" y="346.85">Multivariable Functions</text></g>
<g id="mvfunc"><ellipse class="b" cx="452" cy="345" rx="16" ry="3"/><text class="tb" x="452" y="345.85">Sequences of Points</text></g>
<g id="domain"><ellipse class="b" cx="502" cy="345" rx="17" ry="6"/><text class="tb" x="502" y="343.05"><tspan x="502">The Domain of a</tspan><tspan x="502" dy="2.8">Multivariable</tspan><tspan x="502" dy="2.8">Function</tspan></text></g>
<g id="int2pl"><ellipse class="b" cx="584" cy="345" rx="14" ry="6"/><text class="tb" x="584" y="343.05"><tspan x="584">The Intersection</tspan><tspan x="584" dy="2.8">of Two</tspan><tspan x="584" dy="2.8">Planes</tspan></text></g>
<g id="parpl"><ellipse class="b" cx="647" cy="345" rx="17" ry="5"/><text class="tb" x="647" y="344.45"><tspan x="647">Parallel and</tspan><tspan x="647" dy="2.8">Perpendicular Planes</tspan></text></g>
<g id="c345"><ellipse class="b" cx="692" cy="345" rx="17" ry="5"/><text class="tb" x="692" y="344.45"><tspan x="692">Subspaces of</tspan><tspan x="692" dy="2.8">Euclidean Space</tspan></text></g>
<g id="linspan"><ellipse class="b" cx="751" cy="345" rx="18" ry="7"/><text class="tb" x="751" y="343.05"><tspan x="751">Linear Span of Vectors</tspan><tspan x="751" dy="2.8">in n-Dimensional</tspan><tspan x="751" dy="2.8">Euclidean Space</tspan></text></g>
<g id="findinv3"><ellipse class="g" cx="789" cy="345" rx="16" ry="7"/><text class="tg" x="789" y="343.05"><tspan x="789">Finding the Inverse of</tspan><tspan x="789" dy="2.8">a 3×3 Matrix Using</tspan><tspan x="789" dy="2.8">Row Operations</tspan></text></g>

<g id="sym"><ellipse class="b" cx="632" cy="185" rx="16" ry="3"/><text class="tb" x="632" y="185.85">Symmetric Matrices</text></g>
<g id="c185"><ellipse class="b" cx="675" cy="185" rx="15" ry="5"/><text class="tb" x="675" y="184.45"><tspan x="675">Orthogonal</tspan><tspan x="675" dy="2.8">Matrices</tspan></text></g>
<g id="diagsq"><ellipse class="b" cx="707" cy="184" rx="16" ry="4"/><text class="tb" x="707" y="183.45"><tspan x="707">Diagonalization of</tspan><tspan x="707" dy="2.8">a Square Matrix</tspan></text></g>
<g id="diager"><ellipse class="b" cx="742" cy="184" rx="17" ry="6"/><text class="tb" x="742" y="182.05"><tspan x="742">Diagonalization:</tspan><tspan x="742" dy="2.8">Eigendecomposition of</tspan><tspan x="742" dy="2.8">a Real Matrix</tspan></text></g>
<g id="diag5"><ellipse class="b" cx="808" cy="183" rx="16" ry="10"/><text class="tb" x="808" y="178.25"><tspan x="808">Diagonalizing</tspan><tspan x="808" dy="2.8">Matrices With</tspan><tspan x="808" dy="2.8">Eigenvectors to</tspan><tspan x="808" dy="2.8">Represent Linear</tspan><tspan x="808" dy="2.8">Transformations</tspan></text></g>
<g id="c208"><ellipse class="b" cx="685" cy="208" rx="17" ry="6"/><text class="tb" x="685" y="206.05"><tspan x="685">Algebraic Properties</tspan><tspan x="685" dy="2.8">of Eigenvalues</tspan><tspan x="685" dy="2.8">and Eigenvectors</tspan></text></g>
<g id="eigtri"><ellipse class="b" cx="724" cy="208" rx="17" ry="6"/><text class="tb" x="724" y="206.05"><tspan x="724">Eigenvalues of</tspan><tspan x="724" dy="2.8">Triangular</tspan><tspan x="724" dy="2.8">Matrices</tspan></text></g>
<g id="matvec"><ellipse class="b" cx="760" cy="208" rx="17" ry="4"/><text class="tb" x="760" y="207.45"><tspan x="760">Matrices and Vectors</tspan><tspan x="760" dy="2.8">of Transformations</tspan></text></g>
<g id="rnt"><ellipse class="g" cx="792" cy="207" rx="12" ry="4"/><text class="tg" x="792" y="206.45"><tspan x="792">The Rank-Nullity</tspan><tspan x="792" dy="2.8">Theorem</tspan></text></g>
<g id="invdet1"><ellipse class="b" cx="823" cy="208" rx="15" ry="8"/><text class="tb" x="823" y="204.65"><tspan x="823">Inverting Matrices</tspan><tspan x="823" dy="2.8">Using Determinants:</tspan><tspan x="823" dy="2.8">Cofactors and</tspan><tspan x="823" dy="2.8">Adjoints</tspan></text></g>
<g id="c229"><ellipse class="b" cx="682" cy="229" rx="19" ry="6"/><text class="tb" x="682" y="227.05"><tspan x="682">Orthogonal Projections</tspan><tspan x="682" dy="2.8">onto a</tspan><tspan x="682" dy="2.8">Subspace</tspan></text></g>
<g id="transp"><ellipse class="b" cx="718" cy="230" rx="15" ry="3"/><text class="tb" x="718" y="230.85">Transpose Matrices</text></g>
<g id="eigmat"><ellipse class="b" cx="753" cy="229" rx="17" ry="6"/><text class="tb" x="753" y="227.05"><tspan x="753">Eigenvalues and</tspan><tspan x="753" dy="2.8">Eigenvectors of</tspan><tspan x="753" dy="2.8">a Matrix</tspan></text></g>
<g id="imtrank"><ellipse class="b" cx="790" cy="229" rx="17" ry="8"/><text class="tb" x="790" y="225.65"><tspan x="790">The Invertible Matrix</tspan><tspan x="790" dy="2.8">Theorem in Terms of</tspan><tspan x="790" dy="2.8">Rank and</tspan><tspan x="790" dy="2.8">Nullity</tspan></text></g>
<g id="invdet2"><ellipse class="b" cx="825" cy="229" rx="16" ry="8"/><text class="tb" x="825" y="225.65"><tspan x="825">Inverting Matrices</tspan><tspan x="825" dy="2.8">Using Determinants</tspan><tspan x="825" dy="2.8">and Elementary</tspan><tspan x="825" dy="2.8">Matrices</tspan></text></g>
<g id="c251"><ellipse class="b" cx="680" cy="251" rx="15" ry="5"/><text class="tb" x="680" y="250.45"><tspan x="680">Orthogonal Bases</tspan><tspan x="680" dy="2.8">of Subspaces</tspan></text></g>
<g id="vsdim"><ellipse class="b" cx="727" cy="252" rx="20" ry="6"/><text class="tb" x="727" y="250.05"><tspan x="727">Understanding Vector</tspan><tspan x="727" dy="2.8">Spaces in Terms</tspan><tspan x="727" dy="2.8">of Dimension</tspan></text></g>
<g id="compl"><ellipse class="b" cx="767" cy="251" rx="17" ry="9"/><text class="tb" x="767" y="247.65"><tspan x="767">The Complement of</tspan><tspan x="767" dy="2.8">a Subspace and</tspan><tspan x="767" dy="2.8">Its Relation to</tspan><tspan x="767" dy="2.8">Dimension</tspan></text></g>
<g id="detT"><ellipse class="b" cx="804" cy="252" rx="17" ry="4"/><text class="tb" x="804" y="251.45"><tspan x="804">The Determinant of</tspan><tspan x="804" dy="2.8">the Transpose</tspan></text></g>
<g id="cross"><ellipse class="b" cx="843" cy="252" rx="19" ry="4"/><text class="tb" x="843" y="251.45"><tspan x="843">The Cross Product</tspan><tspan x="843" dy="2.8">of Two Vectors</tspan></text></g>
<g id="c271"><ellipse class="b" cx="672" cy="271" rx="16" ry="6"/><text class="tb" x="672" y="270.45"><tspan x="672">The Gram-Schmidt</tspan><tspan x="672" dy="2.8">Process</tspan></text></g>
<g id="findbases"><ellipse class="b" cx="723" cy="271" rx="14" ry="4"/><text class="tb" x="723" y="270.45"><tspan x="723">Finding Bases</tspan><tspan x="723" dy="2.8">for Subspaces</tspan></text></g>
<g id="propvs"><ellipse class="b" cx="774" cy="271" rx="18" ry="6"/><text class="tb" x="774" y="269.05"><tspan x="774">Properties of</tspan><tspan x="774" dy="2.8">Vector Spaces</tspan><tspan x="774" dy="2.8">and Subspaces</tspan></text></g>
<g id="rank"><ellipse class="b" cx="821" cy="271" rx="16" ry="3"/><text class="tb" x="821" y="271.85">The Rank of a Matrix</text></g>
<g id="c290"><ellipse class="b" cx="673" cy="290" rx="18" ry="8"/><text class="tb" x="673" y="288.05"><tspan x="673">Orthogonal</tspan><tspan x="673" dy="2.8">Complements</tspan><tspan x="673" dy="2.8">of Subspaces</tspan></text></g>
<g id="spanli"><ellipse class="b" cx="713" cy="290" rx="15" ry="8"/><text class="tb" x="713" y="286.65"><tspan x="713">The Span of a Set</tspan><tspan x="713" dy="2.8">of Vectors and</tspan><tspan x="713" dy="2.8">Linear</tspan><tspan x="713" dy="2.8">Independence</tspan></text></g>
<g id="fbspan"><ellipse class="b" cx="746" cy="290" rx="16" ry="6"/><text class="tb" x="746" y="288.05"><tspan x="746">Finding a Basis</tspan><tspan x="746" dy="2.8">of the Span</tspan><tspan x="746" dy="2.8">of a Set</tspan></text></g>
<g id="orthcomp"><ellipse class="b" cx="786" cy="291" rx="17" ry="3"/><text class="tb" x="786" y="291.85">Orthogonal Complements</text></g>
<g id="det"><ellipse class="b" cx="822" cy="290" rx="15" ry="5"/><text class="tb" x="822" y="289.45"><tspan x="822">The Determinant</tspan><tspan x="822" dy="2.8">of a Matrix</tspan></text></g>
<g id="colbasis"><ellipse class="b" cx="857" cy="290" rx="18" ry="6"/><text class="tb" x="857" y="288.05"><tspan x="857">Finding a Basis of</tspan><tspan x="857" dy="2.8">the Column Space</tspan><tspan x="857" dy="2.8">of a Matrix</tspan></text></g>
<g id="li"><ellipse class="b" cx="712" cy="310" rx="16" ry="4"/><text class="tb" x="712" y="309.45"><tspan x="712">Linear Independence</tspan><tspan x="712" dy="2.8">of a Set of Vectors</tspan></text></g>
<g id="nullsp"><ellipse class="b" cx="746" cy="310" rx="16" ry="4"/><text class="tb" x="746" y="309.45"><tspan x="746">The Null Space</tspan><tspan x="746" dy="2.8">of a Matrix</tspan></text></g>
<g id="fbs2"><ellipse class="b" cx="782" cy="310" rx="15" ry="4"/><text class="tb" x="782" y="309.45"><tspan x="782">Finding a Basis</tspan><tspan x="782" dy="2.8">of a Span</tspan></text></g>
<g id="colsp"><ellipse class="b" cx="817" cy="310" rx="17" ry="4"/><text class="tb" x="817" y="309.45"><tspan x="817">The Column Space</tspan><tspan x="817" dy="2.8">of a Matrix</tspan></text></g>
<g id="subsp"><ellipse class="b" cx="751" cy="328" rx="19" ry="6"/><text class="tb" x="751" y="326.05"><tspan x="751">Subspaces of n-Dimensional</tspan><tspan x="751" dy="2.8">Space Spanned</tspan><tspan x="751" dy="2.8">by Vectors</tspan></text></g>
<g id="lindep"><ellipse class="b" cx="787" cy="328" rx="16" ry="4"/><text class="tb" x="787" y="327.45"><tspan x="787">Linear Dependence</tspan><tspan x="787" dy="2.8">and Independence</tspan></text></g>

<g id="bounded"><ellipse class="b" cx="453" cy="364" rx="15" ry="3"/><text class="tb" x="453" y="364.85">Bounded Sets</text></g>
<g id="openclosed"><ellipse class="b" cx="518" cy="364" rx="18" ry="3"/><text class="tb" x="518" y="364.85">Open and Closed Sets</text></g>
<g id="scaleqpl"><ellipse class="b" cx="584" cy="364" rx="19" ry="5"/><text class="tb" x="584" y="363.45"><tspan x="584">The Scalar Equation</tspan><tspan x="584" dy="2.8">of a Plane</tspan></text></g>
<g id="lincomb"><ellipse class="b" cx="620" cy="364" rx="15" ry="3"/><text class="tb" x="620" y="364.85">Linear Combinations</text></g>
<g id="lincomb3"><ellipse class="b" cx="662" cy="364" rx="20" ry="9"/><text class="tb" x="662" y="360.65"><tspan x="662">Linear Combinations</tspan><tspan x="662" dy="2.8">of Vectors in</tspan><tspan x="662" dy="2.8">Three-Dimensional</tspan><tspan x="662" dy="2.8">Space</tspan></text></g>
<g id="gauss"><ellipse class="b" cx="751" cy="364" rx="17" ry="6"/><text class="tb" x="751" y="362.05"><tspan x="751">Gaussian Elimination</tspan><tspan x="751" dy="2.8">for Systems of</tspan><tspan x="751" dy="2.8">Equations</tspan></text></g>
<g id="findinv"><ellipse class="b" cx="788" cy="364" rx="17" ry="6"/><text class="tb" x="788" y="362.05"><tspan x="788">Finding the Inverse</tspan><tspan x="788" dy="2.8">of a Matrix Using</tspan><tspan x="788" dy="2.8">Row Operations</tspan></text></g>
<g id="openreg"><ellipse class="b" cx="309" cy="383" rx="17" ry="6"/><text class="tb" x="309" y="381.05"><tspan x="309">Open and Closed</tspan><tspan x="309" dy="2.8">Regions in Two-</tspan><tspan x="309" dy="2.8">Dimensional Space</tspan></text></g>
<g id="intext"><ellipse class="b" cx="535" cy="383" rx="19" ry="4"/><text class="tb" x="535" y="382.45"><tspan x="535">Interior and Exterior</tspan><tspan x="535" dy="2.8">of Sets in Space</tspan></text></g>
<g id="vecpl"><ellipse class="b" cx="587" cy="383" rx="16" ry="4"/><text class="tb" x="587" y="382.45"><tspan x="587">The Vector Equation</tspan><tspan x="587" dy="2.8">of a Plane</tspan></text></g>
<g id="linesplanes"><ellipse class="b" cx="639" cy="383" rx="20" ry="4"/><text class="tb" x="639" y="382.45"><tspan x="639">Lines and Planes in</tspan><tspan x="639" dy="2.8">Euclidean Space</tspan></text></g>
<g id="rref"><ellipse class="b" cx="751" cy="383" rx="18" ry="4"/><text class="tb" x="751" y="382.45"><tspan x="751">Reduced Row</tspan><tspan x="751" dy="2.8">Echelon Form</tspan></text></g>
<g id="ibpts"><ellipse class="b" cx="528" cy="402" rx="17" ry="4"/><text class="tb" x="528" y="401.45"><tspan x="528">Interior and</tspan><tspan x="528" dy="2.8">Boundary Points</tspan></text></g>
<g id="distpts"><ellipse class="b" cx="562" cy="402" rx="14" ry="4"/><text class="tb" x="562" y="401.45"><tspan x="562">The Distance</tspan><tspan x="562" dy="2.8">Between Points</tspan></text></g>
<g id="subsets"><ellipse class="b" cx="585" cy="402" rx="8" ry="3"/><text class="tb" x="585" y="402.85">Subsets</text></g>
<g id="cartpl"><ellipse class="b" cx="615" cy="402" rx="18" ry="4"/><text class="tb" x="615" y="401.45"><tspan x="615">The Cartesian Equation</tspan><tspan x="615" dy="2.8">of a Plane</tspan></text></g>
<g id="homog"><ellipse class="b" cx="752" cy="402" rx="22" ry="6"/><text class="tb" x="752" y="400.05"><tspan x="752">Solving Systems of</tspan><tspan x="752" dy="2.8">Linear Equations Using</tspan><tspan x="752" dy="2.8">Gaussian Elimination</tspan></text></g>
<g id="nbhd"><ellipse class="b" cx="545" cy="419" rx="13" ry="3"/><text class="tb" x="545" y="419.85">Neighborhoods</text></g>
<g id="normdist"><ellipse class="b" cx="577" cy="419" rx="17" ry="5"/><text class="tb" x="577" y="418.45"><tspan x="577">Norm and Distance</tspan><tspan x="577" dy="2.8">in Euclidean Space</tspan></text></g>
<g id="parline"><ellipse class="b" cx="690" cy="419" rx="20" ry="4"/><text class="tb" x="690" y="418.45"><tspan x="690">The Parametric Equation</tspan><tspan x="690" dy="2.8">of a Line</tspan></text></g>
<g id="parplane"><ellipse class="b" cx="731" cy="419" rx="20" ry="4"/><text class="tb" x="731" y="418.45"><tspan x="731">The Parametric Equation</tspan><tspan x="731" dy="2.8">of a Plane</tspan></text></g>
<g id="vecmat"><ellipse class="b" cx="769" cy="419" rx="16" ry="5"/><text class="tb" x="769" y="418.45"><tspan x="769">Vectors and Matrix</tspan><tspan x="769" dy="2.8">Language</tspan></text></g>
<g id="urref"><ellipse class="b" cx="808" cy="419" rx="15" ry="7"/><text class="tb" x="808" y="417.05"><tspan x="808">Understanding the</tspan><tspan x="808" dy="2.8">Reduced Echelon</tspan><tspan x="808" dy="2.8">Form of a Matrix</tspan></text></g>
<g id="euclid"><ellipse class="b" cx="545" cy="437" rx="16" ry="4"/><text class="tb" x="545" y="436.45"><tspan x="545">Euclidean</tspan><tspan x="545" dy="2.8">Spaces</tspan></text></g>
<g id="vecline"><ellipse class="b" cx="689" cy="437" rx="19" ry="4"/><text class="tb" x="689" y="436.45"><tspan x="689">The Vector Equation</tspan><tspan x="689" dy="2.8">of a Line</tspan></text></g>
<g id="vecscal"><ellipse class="b" cx="738" cy="437" rx="20" ry="5"/><text class="tb" x="738" y="436.45"><tspan x="738">Vector and Scalar</tspan><tspan x="738" dy="2.8">Multiplication</tspan></text></g>
<g id="invgauss"><ellipse class="b" cx="787" cy="437" rx="21" ry="8"/><text class="tb" x="787" y="433.65"><tspan x="787">Determining if a</tspan><tspan x="787" dy="2.8">Matrix is Invertible</tspan><tspan x="787" dy="2.8">Using Gaussian</tspan><tspan x="787" dy="2.8">Elimination</tspan></text></g>
<g id="sollin"><ellipse class="b" cx="827" cy="437" rx="17" ry="6"/><text class="tb" x="827" y="435.05"><tspan x="827">Solving Linear</tspan><tspan x="827" dy="2.8">Systems Using</tspan><tspan x="827" dy="2.8">Gaussian Elimination</tspan></text></g>
<g id="sets"><ellipse class="b" cx="590" cy="454" rx="11" ry="3"/><text class="tb" x="590" y="454.85">Set Notation</text></g>
<g id="vecops"><ellipse class="b" cx="738" cy="454" rx="13" ry="4"/><text class="tb" x="738" y="453.45"><tspan x="738">Vector</tspan><tspan x="738" dy="2.8">Operations</tspan></text></g>
<g id="intsys"><ellipse class="b" cx="807" cy="454" rx="15" ry="6"/><text class="tb" x="807" y="452.05"><tspan x="807">Introduction to</tspan><tspan x="807" dy="2.8">Systems of</tspan><tspan x="807" dy="2.8">Linear Equations</tspan></text></g>
<g id="solinv"><ellipse class="b" cx="787" cy="472" rx="18" ry="9"/><text class="tb" x="787" y="468.65"><tspan x="787">Solving Systems</tspan><tspan x="787" dy="2.8">of Linear Equations</tspan><tspan x="787" dy="2.8">Using Matrix</tspan><tspan x="787" dy="2.8">Inverses</tspan></text></g>
<g id="solrow"><ellipse class="b" cx="826" cy="472" rx="18" ry="6"/><text class="tb" x="826" y="470.05"><tspan x="826">Solving Systems of</tspan><tspan x="826" dy="2.8">Equations Using</tspan><tspan x="826" dy="2.8">Row Operations</tspan></text></g>
<g id="elemrow"><ellipse class="b" cx="786" cy="491" rx="22" ry="3"/><text class="tb" x="786" y="491.85">Elementary Row Operations</text></g>
<g id="ref"><ellipse class="b" cx="826" cy="491" rx="15" ry="3"/><text class="tb" x="826" y="491.85">Row Echelon Form</text></g>
<g id="augm"><ellipse class="b" cx="808" cy="504" rx="19" ry="4"/><text class="tb" x="808" y="503.45"><tspan x="808">Systems of Equations as</tspan><tspan x="808" dy="2.8">Augmented Matrices</tspan></text></g>
<g id="algman"><ellipse class="g" cx="846" cy="505" rx="11" ry="4"/><text class="tg" x="846" y="504.45"><tspan x="846">Algebraic</tspan><tspan x="846" dy="2.8">Manipulation</tspan></text></g>
<g id="linalg"><ellipse class="b" cx="879" cy="491" rx="17" ry="5"/><text class="tb" x="879" y="490.45"><tspan x="879">Linear Algebraic</tspan><tspan x="879" dy="2.8">Equations</tspan></text></g>
<g id="algeq"><ellipse class="b" cx="879" cy="504" rx="17" ry="3"/><text class="tb" x="879" y="504.85">Algebraic Equations</text></g>

<g id="chain3"><ellipse class="g" cx="511" cy="229" rx="16" ry="7"/><text class="tg" x="511" y="227.05"><tspan x="511">The Multivariable</tspan><tspan x="511" dy="2.8">Chain Rule in</tspan><tspan x="511" dy="2.8">Vector Form</tspan></text></g>
<g id="dirder"><ellipse class="g" cx="548" cy="230" rx="17" ry="3"/><text class="tg" x="548" y="230.85">Directional Derivatives</text></g>
<g id="mixed"><ellipse class="g" cx="482" cy="252" rx="14" ry="5"/><text class="tg" x="482" y="251.45"><tspan x="482">Equality of Mixed</tspan><tspan x="482" dy="2.8">Partial Derivatives</tspan></text></g>
<g id="grad"><ellipse class="g" cx="547" cy="251" rx="15" ry="3"/><text class="tg" x="547" y="251.85">The Gradient Vector</text></g>
<g id="hopd"><ellipse class="g" cx="480" cy="271" rx="17" ry="4"/><text class="tg" x="480" y="270.45"><tspan x="480">Higher-Order</tspan><tspan x="480" dy="2.8">Partial Derivatives</tspan></text></g>
<g id="chain"><ellipse class="g" cx="511" cy="271" rx="14" ry="4"/><text class="tg" x="511" y="270.45"><tspan x="511">The Multivariable</tspan><tspan x="511" dy="2.8">Chain Rule</tspan></text></g>
<g id="partdiff"><ellipse class="g" cx="545" cy="271" rx="17" ry="6"/><text class="tg" x="545" y="269.05"><tspan x="545">Partial Differentiability</tspan><tspan x="545" dy="2.8">of Multivariable</tspan><tspan x="545" dy="2.8">Functions</tspan></text></g>
<g id="geompd"><ellipse class="g" cx="585" cy="271" rx="20" ry="4"/><text class="tg" x="585" y="270.45"><tspan x="585">Geometric Interpretation</tspan><tspan x="585" dy="2.8">of Partial Derivatives</tspan></text></g>
<g id="comppd"><ellipse class="g" cx="523" cy="290" rx="18" ry="6"/><text class="tg" x="523" y="288.05"><tspan x="523">Computing Partial</tspan><tspan x="523" dy="2.8">Derivatives (Rules</tspan><tspan x="523" dy="2.8">of Differentiation)</tspan></text></g>
</svg>
